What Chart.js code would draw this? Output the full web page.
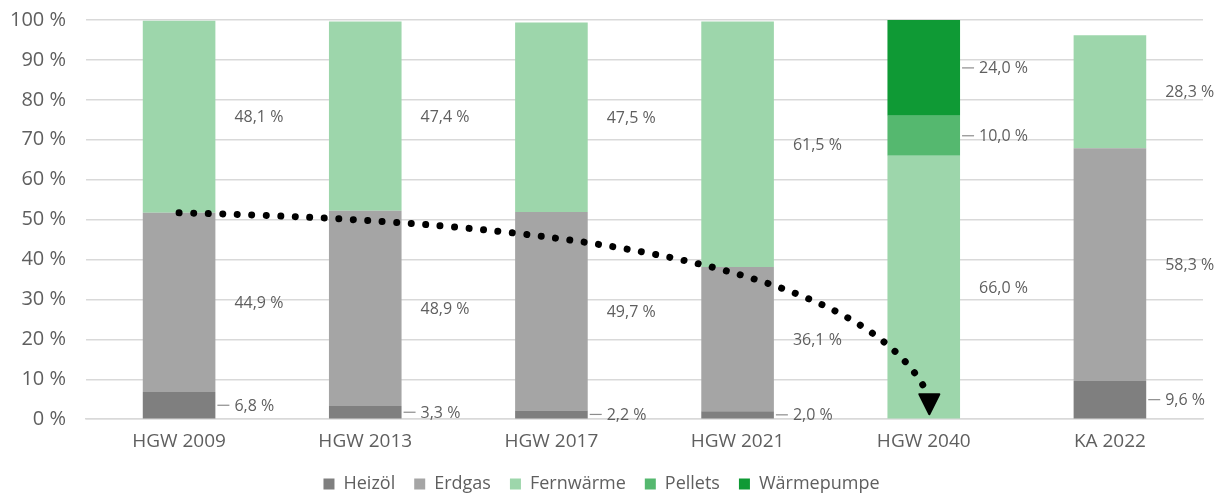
<!DOCTYPE html>
<html>
<head>
<meta charset="utf-8">
<script src="https://cdn.jsdelivr.net/npm/chart.js@4/dist/chart.umd.min.js"></script>
<style>
  html, body { margin: 0; padding: 0; background: #fff; }
  #wrap { width: 1219px; height: 493px; }
</style>
</head>
<body>
<div id="wrap"><canvas id="chart"></canvas></div>
<script>
// Daten
const categories = ['HGW 2009', 'HGW 2013', 'HGW 2017', 'HGW 2021', 'HGW 2040', 'KA 2022'];
const heizoel     = [6.8, 3.3, 2.2, 2.0, 0, 9.6];
const erdgas      = [44.9, 48.9, 49.7, 36.1, 0, 58.3];
const fernwaerme  = [48.1, 47.4, 47.5, 61.5, 66.0, 28.3];
const pellets     = [0, 0, 0, 0, 10.0, 0];
const waermepumpe = [0, 0, 0, 0, 24.0, 0];
const yTicks = [0, 10, 20, 30, 40, 50, 60, 70, 80, 90, 100];

// gepunkteter Pfeil: [Kategorie-Index, Prozent]
const arrowPath = [[0, 51.7], [1.99, 49.6], [3.66, 39.5], [4.02, 6.5]];
const arrowTip = [4.03, 1.0];

const textColor = '#5f5f5f';
const fontFamily = '"Open Sans", "Liberation Sans", sans-serif';

function fmt(v) {
    return v.toFixed(1).replace('.', ',') + ' %';
}

// Beschriftungen rechts neben den Segmenten
const segmentLabels = {
    id: 'segmentLabels',
    afterDatasetsDraw(chart) {
        const ctx = chart.ctx;
        ctx.save();
        ctx.font = '16px ' + fontFamily;
        ctx.fillStyle = textColor;
        ctx.strokeStyle = '#8c8c8c';
        ctx.lineWidth = 1.2;
        ctx.textBaseline = 'middle';
        chart.data.datasets.forEach((ds, i) => {
            const meta = chart.getDatasetMeta(i);
            meta.data.forEach((bar, j) => {
                const v = ds.data[j];
                if (!v) return;
                const right = bar.x + bar.width / 2;
                const mid = (bar.y + bar.base) / 2;
                if (ds.leader) {
                    ctx.beginPath();
                    ctx.moveTo(right + 2, mid);
                    ctx.lineTo(right + 14, mid);
                    ctx.stroke();
                }
                ctx.fillText(fmt(v), right + 19, mid + 1);
            });
        });
        ctx.restore();
    }
};

// gepunkteter Pfeil von HGW 2009 nach HGW 2040
const dottedArrow = {
    id: 'dottedArrow',
    afterDraw(chart) {
        const x = chart.scales.x, y = chart.scales.y;
        const p = arrowPath.map(pt => [x.getPixelForValue(pt[0]), y.getPixelForValue(pt[1])]);
        const tip = [x.getPixelForValue(arrowTip[0]), y.getPixelForValue(arrowTip[1])];
        const ctx = chart.ctx;
        ctx.save();
        ctx.strokeStyle = '#000';
        ctx.fillStyle = '#000';
        ctx.lineWidth = 7;
        ctx.lineCap = 'round';
        ctx.setLineDash([0.01, 14.5]);
        ctx.beginPath();
        ctx.moveTo(p[0][0], p[0][1]);
        ctx.bezierCurveTo(p[1][0], p[1][1], p[2][0], p[2][1], p[3][0], p[3][1]);
        ctx.stroke();
        ctx.setLineDash([]);
        ctx.lineJoin = 'round';
        ctx.lineWidth = 2;
        ctx.beginPath();
        ctx.moveTo(tip[0], tip[1] - 1);
        ctx.lineTo(tip[0] - 10, tip[1] - 21);
        ctx.lineTo(tip[0] + 10, tip[1] - 21);
        ctx.closePath();
        ctx.fill();
        ctx.stroke();
        ctx.restore();
    }
};

const ctx = document.getElementById('chart').getContext('2d');
new Chart(ctx, {
    type: 'bar',
    data: {
        labels: categories,
        datasets: [
            { label: 'Heizöl', data: heizoel, backgroundColor: '#7f7f7f', leader: true },
            { label: 'Erdgas', data: erdgas, backgroundColor: '#a5a5a5', leader: false },
            { label: 'Fernwärme', data: fernwaerme, backgroundColor: '#9dd6ab', leader: false },
            { label: 'Pellets', data: pellets, backgroundColor: '#55b86f', leader: true },
            { label: 'Wärmepumpe', data: waermepumpe, backgroundColor: '#0f9a35', leader: true }
        ]
    },
    options: {
        responsive: true,
        maintainAspectRatio: false,
        animation: false,
        barPercentage: 0.39,
        categoryPercentage: 1,
        layout: { padding: { top: 20, right: 16, left: 0, bottom: -10 } },
        plugins: {
            legend: {
                position: 'bottom',
                labels: {
                    color: textColor,
                    font: { family: fontFamily, size: 18 },
                    boxWidth: 11,
                    boxHeight: 11,
                    padding: 19
                }
            },
            tooltip: { enabled: false }
        },
        scales: {
            x: {
                stacked: true,
                grid: { display: false },
                border: { color: '#d9d9d9', width: 1.5 },
                ticks: {
                    color: textColor,
                    font: { family: fontFamily, size: 19 },
                    padding: 3
                }
            },
            y: {
                stacked: true,
                min: 0,
                max: 100,
                z: 1,
                afterFit(scale) { scale.width = 86; },
                afterBuildTicks(scale) { scale.ticks = yTicks.map(v => ({ value: v })); },
                grid: {
                    color: 'rgba(0,0,0,0.15)',
                    lineWidth: 1.5,
                    drawTicks: true,
                    tickLength: 17,
                    tickColor: 'rgba(0,0,0,0)'
                },
                border: { display: false },
                ticks: {
                    color: textColor,
                    font: { family: fontFamily, size: 20 },
                    padding: 3,
                    callback: v => v + ' %'
                }
            }
        }
    },
    plugins: [segmentLabels, dottedArrow]
});
</script>
</body>
</html>
